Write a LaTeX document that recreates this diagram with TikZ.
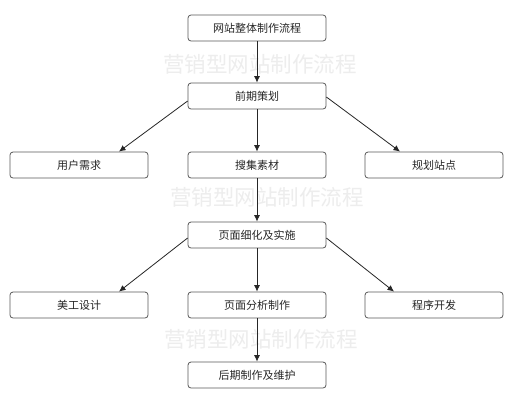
\documentclass[tikz,border=0pt]{standalone}
\usepackage{fontspec}
\newfontfamily\cjk{Noto Sans CJK SC}
\usetikzlibrary{arrows.meta}
\begin{document}
\begin{tikzpicture}[x=1pt,y=-1pt,
  box/.style={draw=black!65, line width=0.8pt, rounded corners=3pt,
    minimum width=138pt, minimum height=26pt, inner sep=0pt,
    font=\cjk\fontsize{11pt}{13pt}\selectfont, text=black!85},
  wm/.style={text=black!7, inner sep=0pt,
    font=\cjk\fontsize{21.5pt}{24pt}\selectfont},
  arr/.style={draw=black!85, line width=0.8pt, -{Latex[length=6.5pt,width=6pt]}}]
\useasboundingbox (0,0) rectangle (518,400);
\fill[white] (0,0) rectangle (518,400);
% watermarks
\node[wm] (w1) at (260,64) {营销型网站制作流程};
\node[wm] (w2) at (267,197) {营销型网站制作流程};
\node[wm] (w3) at (261,339) {营销型网站制作流程};
% boxes
\node[box] (top) at (257,28) {网站整体制作流程};
\node[box] (pq) at (257,96) {前期策划};
\node[box] (yh) at (79,165) {用户需求};
\node[box] (ss) at (257,165) {搜集素材};
\node[box] (gh) at (434,165) {规划站点};
\node[box] (xh) at (257,235) {页面细化及实施};
\node[box] (mg) at (79,305) {美工设计};
\node[box] (fx) at (257,305) {页面分析制作};
\node[box] (cx) at (434,305) {程序开发};
\node[box] (hq) at (257,375) {后期制作及维护};
% connectors
\draw[arr] (top.south) -- (pq.north);
\draw[arr] ([yshift=-5pt]pq.west) -- ([xshift=40pt]yh.north);
\draw[arr] (pq.south) -- (ss.north);
\draw[arr] ([yshift=-1pt]pq.east) -- ([xshift=-34pt]gh.north);
\draw[arr] (ss.south) -- (xh.north);
\draw[arr] ([yshift=-3pt]xh.west) -- ([xshift=40pt]mg.north);
\draw[arr] (xh.south) -- (fx.north);
\draw[arr] ([yshift=-3pt]xh.east) -- ([xshift=-40pt]cx.north);
\draw[arr] (fx.south) -- (hq.north);
\end{tikzpicture}
\end{document}
